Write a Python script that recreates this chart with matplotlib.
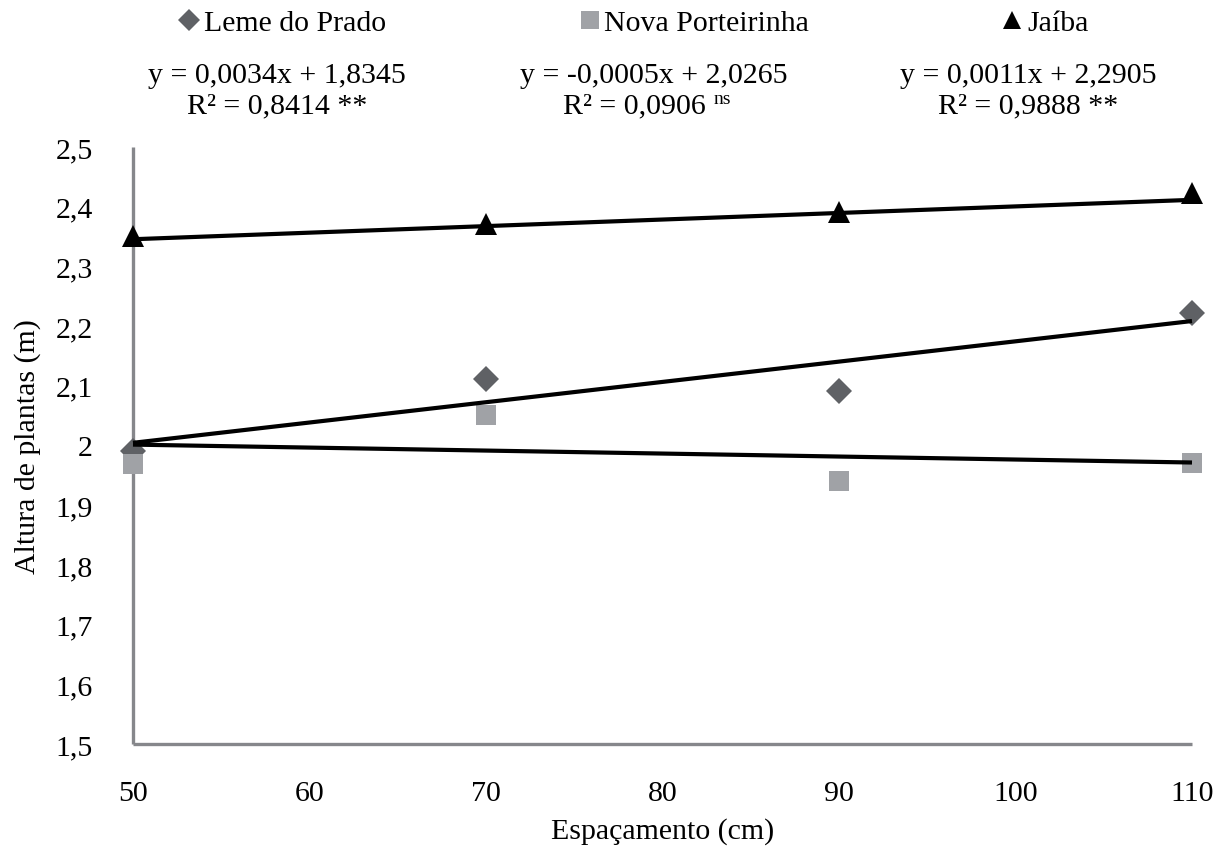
import matplotlib
matplotlib.use("Agg")
import matplotlib.pyplot as plt
from matplotlib.lines import Line2D
import numpy as np

plt.rcParams['font.family'] = ['Liberation Serif', 'DejaVu Serif']

espacamento = [50, 70, 90, 110]
series_names = ["Leme do Prado", "Nova Porteirinha", "Jaíba"]
leme = [1.991, 2.111, 2.091, 2.222]
nova = [1.969, 2.051, 1.941, 1.971]
jaiba = [2.351, 2.371, 2.391, 2.423]
slopes = [0.0034, -0.0005, 0.0011]
intercepts = [1.8345, 2.0265, 2.2905]
eq_texts = ["y = 0,0034x + 1,8345", "y = -0,0005x + 2,0265", "y = 0,0011x + 2,2905"]
r2_texts = ["R² = 0,8414 **", "R² = 0,0906", "R² = 0,9888 **"]
r2_sup = ["", "ns", ""]
y_ticks = [1.5, 1.6, 1.7, 1.8, 1.9, 2.0, 2.1, 2.2, 2.3, 2.4, 2.5]
x_ticks = [50, 60, 70, 80, 90, 100, 110]

colors = ["#5f6165", "#a0a2a6", "#000000"]
markers = ["D", "s", "^"]
msizes = [13.5, 15, 15.6]

fig = plt.figure(figsize=(12.25, 8.53), dpi=100)
ax = fig.add_axes([133/1225, 1-745/853, (1192-133)/1225, (745-148)/853])

for vals, c, m, ms in zip([leme, nova, jaiba], colors, markers, msizes):
    ax.plot(espacamento, vals, linestyle='none', marker=m, color=c,
            markersize=ms, markeredgewidth=0, zorder=3, clip_on=False)

xl = np.array([espacamento[0], espacamento[-1]])
for s, b in zip(slopes, intercepts):
    ax.plot(xl, np.polyval([s, b], xl), color='black', lw=3, zorder=4,
            solid_capstyle='butt', clip_on=False)

ax.set_xlim(50, 110)
ax.set_ylim(1.5, 2.5)
ax.set_xticks(x_ticks)
ax.set_yticks(y_ticks)
ax.set_xticklabels([str(v) for v in x_ticks])
ax.set_yticklabels([("%g" % v).replace('.', ',') for v in y_ticks])
ax.tick_params(length=0, labelsize=21.5, colors='black')
ax.tick_params(axis='y', pad=29)
ax.tick_params(axis='x', pad=26)
for sp in ['top', 'right']:
    ax.spines[sp].set_visible(False)
for sp in ['left', 'bottom']:
    ax.spines[sp].set_color('#86878b')
    ax.spines[sp].set_linewidth(2.4)
    ax.spines[sp].set_capstyle('butt')
ax.spines['bottom'].set_bounds(50, 110)

ax.set_xlabel("Espaçamento (cm)", fontsize=21.5, labelpad=8)
ax.set_ylabel("Altura de plantas (m)", fontsize=21.5, labelpad=10)

# legend
handles = [Line2D([], [], linestyle='none', marker=m, color=c, markersize=ms*0.85,
                  markeredgewidth=0) for m, c, ms in zip(markers, colors, msizes)]
leg = fig.legend(handles, series_names, loc='center', bbox_to_anchor=(0.518, 1-24/853),
                 ncol=3, frameon=False, fontsize=21.5, handlelength=0.6,
                 handletextpad=0.2, columnspacing=6.5, borderaxespad=0)

# equations
centers = [277/1225, 654/1225, 1028/1225]
for cx, eq, r2, sup in zip(centers, eq_texts, r2_texts, r2_sup):
    fig.text(cx, 1-76/853, eq, ha='center', va='center', fontsize=21.5)
    if sup:
        fig.text(cx - 20/1225, 1-106/853, r2, ha='center', va='center', fontsize=21.5)
        fig.text(cx + 60/1225, 1-100/853, sup, ha='left', va='center', fontsize=14)
    else:
        fig.text(cx, 1-106/853, r2, ha='center', va='center', fontsize=21.5)

fig.savefig("out.png", dpi=100)
